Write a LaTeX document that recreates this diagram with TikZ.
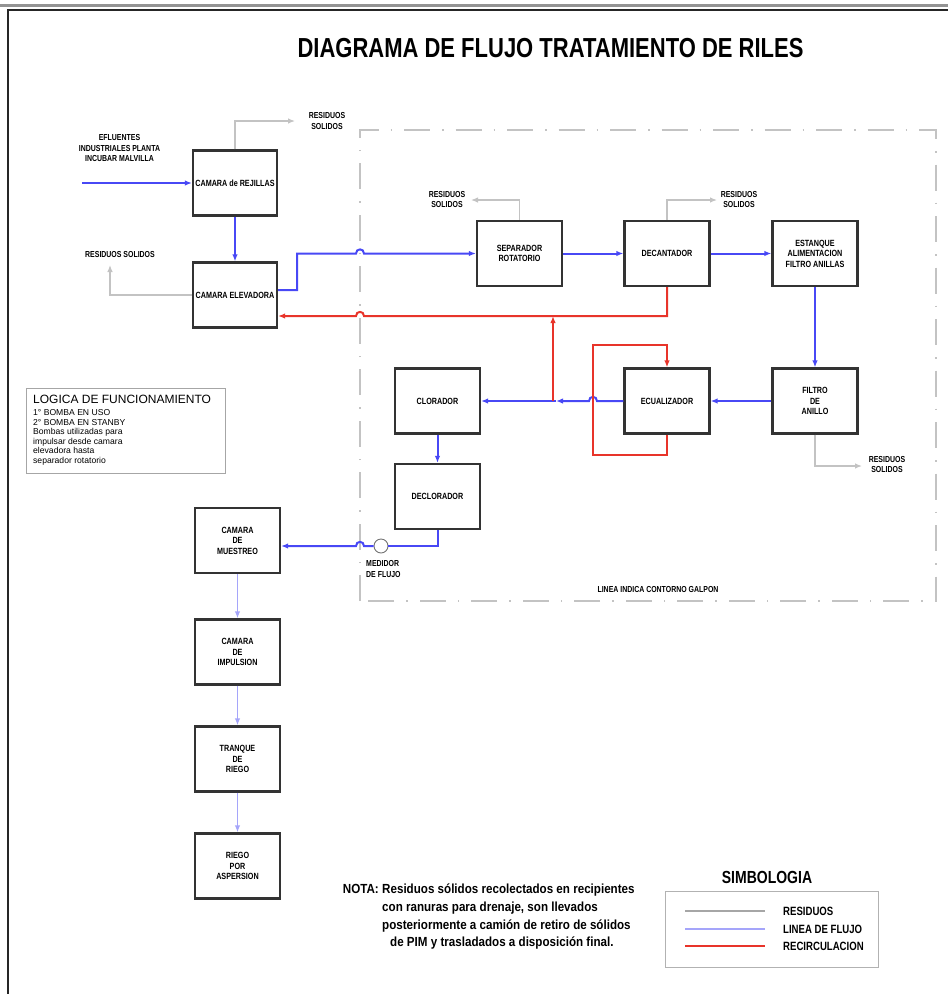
\documentclass[tikz,border=0pt]{standalone}
\usepackage{fontspec}
\setmainfont{Liberation Sans}
\newfontfamily\nbfam[FakeStretch=0.8]{Liberation Sans}
\newfontfamily\ntfam[FakeStretch=0.88]{Liberation Sans}
\newcommand\nb{\nbfam\bfseries}
\newcommand\nt{\ntfam\bfseries}
\usetikzlibrary{arrows.meta}
\definecolor{flowblue}{RGB}{72,72,245}
\definecolor{lightflow}{RGB}{165,165,250}
\definecolor{recred}{RGB}{232,52,42}
\definecolor{resgray}{RGB}{195,195,195}
\tikzset{
 stepbox/.style={draw=black!80, line width=2.2pt, minimum width=85pt, minimum height=65pt, align=center, inner sep=1pt, font=\nb\fontsize{9}{10.5}\selectfont},
 tip/.style={-{Latex[length=7pt,width=5.5pt]}},
 flow/.style={draw=flowblue, line width=2pt},
 lflow/.style={draw=lightflow, line width=1.7pt},
 rec/.style={draw=recred, line width=2pt},
 res/.style={draw=resgray, line width=1.2pt},
 lbl/.style={align=center, inner sep=0pt, font=\nb\fontsize{8.7}{10.5}\selectfont},
 contour/.style={draw=resgray, line width=1.8pt, dash pattern=on 26pt off 12pt on 1.5pt off 12pt},
}
\begin{document}
\begin{tikzpicture}[x=1pt,y=-1pt]
\useasboundingbox (0,0) rectangle (948,994);
% frame
\draw[gray!85, line width=3pt] (0,5) -- (948,5);
\draw[black!85, line width=2pt] (8,994) -- (8,10) -- (948,10);
% title
\node[inner sep=0pt, font=\nb\fontsize{27.5}{30}\selectfont] (title) at (550.5,48) {DIAGRAMA DE FLUJO TRATAMIENTO DE RILES};
% contour
\draw[contour] (360,601) -- (360,130) -- (936,130) -- (936,601) -- cycle;
\node[lbl] (galpon) at (658,589) {LINEA INDICA CONTORNO GALPON};
% boxes
\node[stepbox, minimum width=84pt] (rej) at (235,183) {CAMARA de REJILLAS};
\node[stepbox, minimum width=84pt] (elev) at (235,295) {CAMARA ELEVADORA};
\node[stepbox] (sep) at (519.5,253.5) {SEPARADOR\\ROTATORIO};
\node[stepbox] (dec) at (667,253.5) {DECANTADOR};
\node[stepbox] (est) at (815,253.5) {ESTANQUE\\ALIMENTACION\\FILTRO ANILLAS};
\node[stepbox] (clo) at (437.5,401) {CLORADOR};
\node[stepbox] (ecu) at (667,401) {ECUALIZADOR};
\node[stepbox] (fil) at (815,401) {FILTRO\\DE\\ANILLO};
\node[stepbox] (decl) at (437.5,496.5) {DECLORADOR};
\node[stepbox] (mue) at (237.5,540.5) {CAMARA\\DE\\MUESTREO};
\node[stepbox] (imp) at (237.5,652) {CAMARA\\DE\\IMPULSION};
\node[stepbox] (tra) at (237.5,759) {TRANQUE\\DE\\RIEGO};
\node[stepbox] (asp) at (237.5,866) {RIEGO\\POR\\ASPERSION};
% labels
\node[lbl] (efl) at (119.5,148) {EFLUENTES\\INDUSTRIALES PLANTA\\INCUBAR MALVILLA};
\node[lbl] (rs1t) at (327,121) {RESIDUOS\\SOLIDOS};
\node[lbl] (rs2t) at (120,254) {RESIDUOS SOLIDOS};
\node[lbl] (rs3t) at (447,199.5) {RESIDUOS\\SOLIDOS};
\node[lbl] (rs4t) at (739,199.5) {RESIDUOS\\SOLIDOS};
\node[lbl] (rs5t) at (887,464.5) {RESIDUOS\\SOLIDOS};
\node[lbl, align=left, anchor=west] (medt) at (366,569) {MEDIDOR\\DE FLUJO};
% coordinates
\coordinate (in) at (82,183);
\coordinate (r1) at (295,121);
\coordinate (r2) at (110,265);
\coordinate (r3) at (471,200);
\coordinate (r4) at (717,200);
\coordinate (r5) at (862,466);
\coordinate (bl) at (0,290);
\coordinate (rl) at (0,316);
\coordinate (j1) at (553,401);
\coordinate (j2) at (553,316);
\coordinate (j3) at (556,401);
\coordinate (ml) at (0,546);
% residue lines
\draw[res,tip] (rej.north) |- (r1);
\draw[res,tip] (elev.west) -| (r2);
\draw[res,tip] (sep.north) |- (r3);
\draw[res,tip] (dec.north) |- (r4);
\draw[res,tip] (fil.south) |- (r5);
% flow lines
\draw[flow,tip] (in) -- (rej.west);
\draw[flow,tip] (rej.south) -- (elev.north);
\draw[flow,tip] (elev.east |- bl) -- (297,290) -- (297,253.5) -- (356,253.5)
  .. controls (356,248) and (364,248) .. (364,253.5) -- (sep.west);
\draw[flow,tip] (sep.east) -- (dec.west);
\draw[flow,tip] (dec.east) -- (est.west);
\draw[flow,tip] (est.south) -- (fil.north);
\draw[flow,tip] (fil.west) -- (ecu.east);
\draw[flow,tip] (ecu.west) -- (597,401) .. controls (597,395.5) and (589,395.5) .. (589,401) -- (j3);
\draw[flow,tip] (j3) -- (clo.east);
\draw[flow,tip] (clo.south) -- (decl.north);
\node[circle, draw=black!55, line width=0.9pt, minimum size=14pt, inner sep=0pt] (med) at (381,546) {};
\draw[flow] (decl.south) |- (med.east);
\draw[flow,tip] (med.west) -- (364,546) .. controls (364,540.5) and (356,540.5) .. (356,546) -- (mue.east |- ml);
\draw[lflow,tip] (mue.south) -- (imp.north);
\draw[lflow,tip] (imp.south) -- (tra.north);
\draw[lflow,tip] (tra.south) -- (asp.north);
% recirculation
\draw[rec,tip] (dec.south) |- (364,316) .. controls (364,310.5) and (356,310.5) .. (356,316) -- (elev.east |- rl);
\draw[rec,tip] (j1) -- (j2);
\draw[rec,tip] (ecu.south) -- (667,455) -- (593,455) -- (593,345) -- (667,345) -- (ecu.north);
% logic box
\node[draw=gray!70, line width=1.2pt, minimum width=199pt, minimum height=85pt, anchor=north west, inner sep=0pt] (logic) at (26,388) {};
\node[anchor=west, inner sep=0pt, font=\fontsize{12}{14}\selectfont] (logt) at (33,399) {LOGICA DE FUNCIONAMIENTO};
\node[anchor=north west, inner sep=0pt, align=left, font=\fontsize{8.6}{9.5}\selectfont] (logb) at (33,409.5) {1° BOMBA EN USO\\2° BOMBA EN STANBY\\Bombas utilizadas para\\impulsar desde camara\\elevadora hasta\\separador rotatorio};
% note
\node[anchor=north east, inner sep=0pt, font=\nt\fontsize{13.2}{17.7}\selectfont] (notah) at (379,884) {NOTA:};
\node[anchor=north west, inner sep=0pt, align=left, font=\nt\fontsize{13.2}{17.7}\selectfont] (nota) at (382,884) {Residuos sólidos recolectados en recipientes\\con ranuras para drenaje, son llevados\\posteriormente a camión de retiro de sólidos\\\hspace{8pt}de PIM y trasladados a disposición final.};
% legend
\node[inner sep=0pt, font=\nb\fontsize{17.5}{19}\selectfont] (simb) at (767,877) {SIMBOLOGIA};
\node[draw=gray!60, line width=1.2pt, minimum width=213pt, minimum height=76pt, anchor=north west, inner sep=0pt] (leg) at (665,891) {};
\coordinate (l1a) at (685,911); \coordinate (l1b) at (765,911);
\coordinate (l2a) at (685,929); \coordinate (l2b) at (765,929);
\coordinate (l3a) at (685,946); \coordinate (l3b) at (765,946);
\draw[draw=gray!70, line width=1.6pt] (l1a) -- (l1b);
\draw[draw=lightflow, line width=1.8pt] (l2a) -- (l2b);
\draw[rec, line width=1.6pt] (l3a) -- (l3b);
\node[anchor=west, inner sep=0pt, font=\nb\fontsize{12}{13}\selectfont] (lt1) at (783,911) {RESIDUOS};
\node[anchor=west, inner sep=0pt, font=\nb\fontsize{12}{13}\selectfont] (lt2) at (783,929) {LINEA DE FLUJO};
\node[anchor=west, inner sep=0pt, font=\nb\fontsize{12}{13}\selectfont] (lt3) at (783,946) {RECIRCULACION};
\end{tikzpicture}
\end{document}
